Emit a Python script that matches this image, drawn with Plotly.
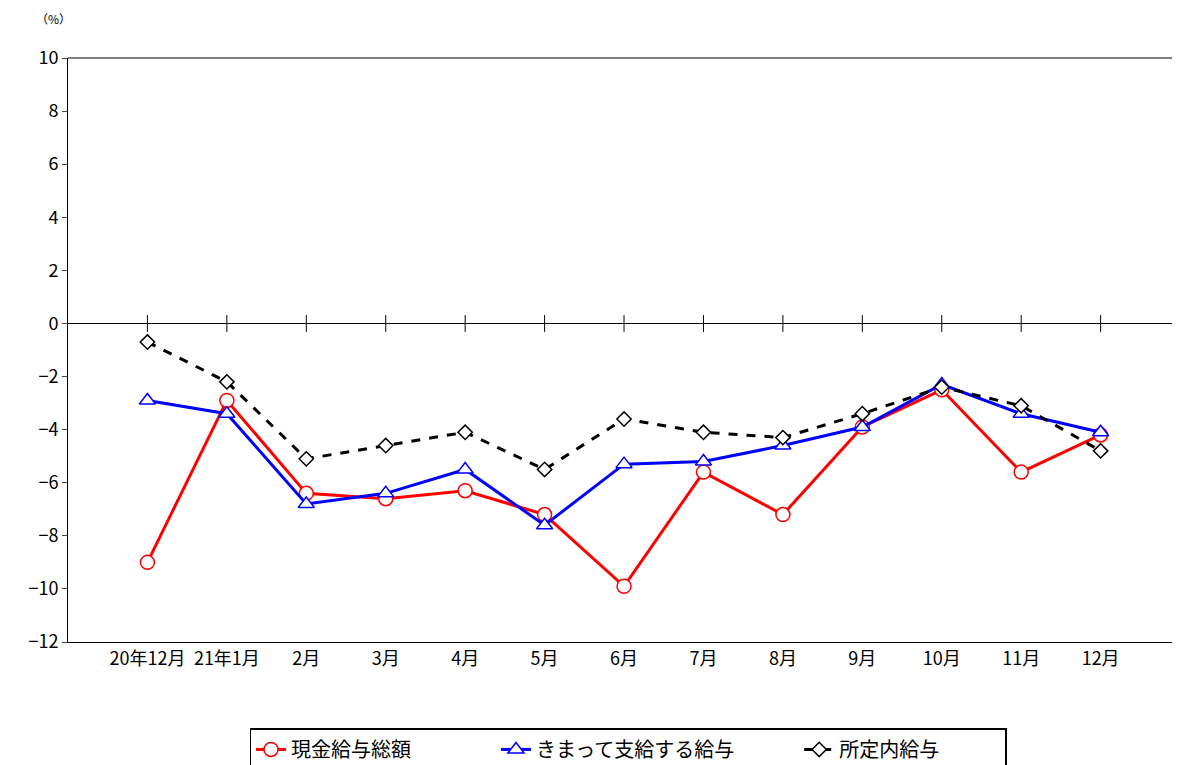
import plotly.graph_objects as go

months = ["20年12月", "21年1月", "2月", "3月", "4月", "5月", "6月", "7月", "8月", "9月", "10月", "11月", "12月"]
genkin = [-9.0, -2.9, -6.4, -6.6, -6.3, -7.2, -9.9, -5.6, -7.2, -3.9, -2.5, -5.6, -4.2]
kimatte = [-2.9, -3.4, -6.8, -6.4, -5.5, -7.6, -5.3, -5.2, -4.6, -3.9, -2.3, -3.4, -4.1]
shoteinai = [-0.7, -2.2, -5.1, -4.6, -4.1, -5.5, -3.6, -4.1, -4.3, -3.4, -2.4, -3.1, -4.8]

font = "Noto Sans CJK JP"
xs = list(range(len(months)))

fig = go.Figure()
fig.add_trace(go.Scatter(x=xs, y=genkin, name="現金給与総額　　　　", mode="lines+markers",
                         line=dict(color="#ff0000", width=3),
                         marker=dict(symbol="circle", size=14, color="white", line=dict(color="#ff0000", width=1.5))))
fig.add_trace(go.Scatter(x=xs, y=kimatte, name="きまって支給する給与　　　", mode="lines+markers",
                         line=dict(color="#0000ff", width=3),
                         marker=dict(symbol="triangle-up", size=14, color="white", line=dict(color="#0000ff", width=1.5))))
fig.add_trace(go.Scatter(x=xs, y=shoteinai, name="所定内給与　　　", mode="lines+markers",
                         line=dict(color="black", width=3, dash="dash"),
                         marker=dict(symbol="diamond", size=11, color="white", line=dict(color="black", width=1.5))))
# tick marks on the zero line
fig.add_trace(go.Scatter(x=xs, y=[0] * len(xs), mode="markers", showlegend=False, hoverinfo="skip",
                         marker=dict(symbol="line-ns", size=12, line=dict(color="black", width=1))))

fig.add_annotation(text="（%）", x=-0.03, y=1.085, xref="paper", yref="paper", showarrow=False,
                   xanchor="left", yanchor="top", font=dict(size=12, family=font))
fig.add_shape(type="line", xref="paper", yref="paper", x0=0, x1=1.02, y0=1, y1=1,
              line=dict(color="black", width=1))

fig.update_layout(
    width=1180, height=765,
    margin=dict(l=60, r=0, t=50, b=131),
    plot_bgcolor="white", paper_bgcolor="white",
    font=dict(family=font, size=18, color="black"),
    xaxis=dict(range=[-1, 13.1], tickmode="array", tickvals=xs, ticktext=months,
               showgrid=False, showline=True, linecolor="black",
               ticks="", zeroline=False, tickfont=dict(size=18)),
    yaxis=dict(range=[-12, 10], dtick=2, showgrid=False, showline=True, linecolor="black",
               ticks="outside", ticklen=5, zeroline=True, zerolinecolor="black", zerolinewidth=1,
               tickfont=dict(size=18, family=font)),
    legend=dict(orientation="h", x=0.5, xanchor="center", y=-0.148, yanchor="top",
                bordercolor="black", borderwidth=1.5, font=dict(size=20)),
)
fig.write_html("out.html")
